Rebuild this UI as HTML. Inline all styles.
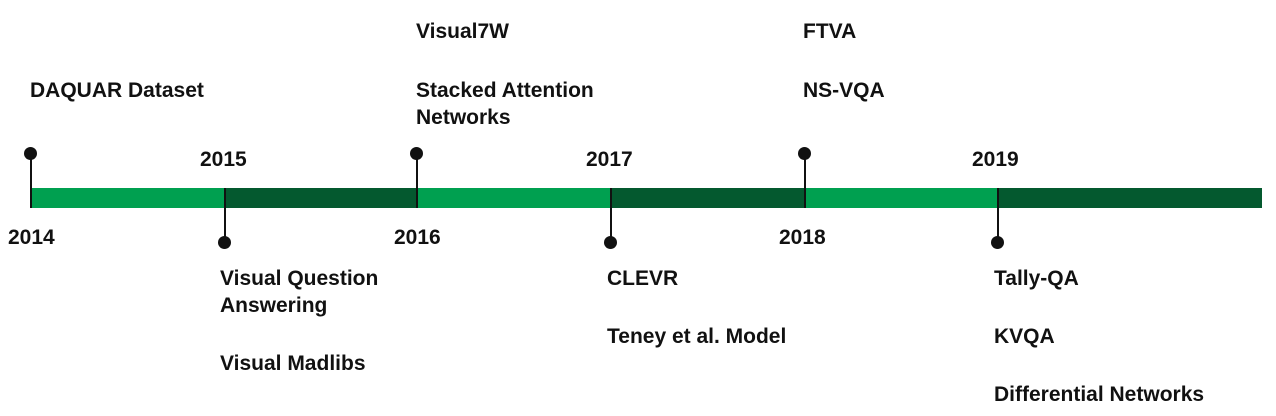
<!DOCTYPE html>
<html><head><style>
body{margin:0;width:1276px;height:416px;background:#fff;position:relative;overflow:hidden;font-family:"Liberation Sans",Arial,sans-serif;font-weight:bold;color:#111;}
.t{position:absolute;font-size:21px;line-height:27px;white-space:nowrap;}
.seg{position:absolute;top:188px;height:20px;}
.l{background:#00a050}.d{background:#04592f}
.v{position:absolute;width:1.5px;background:#111}
.dot{position:absolute;width:13px;height:13px;border-radius:50%;background:#111}
</style></head><body>
<div class="seg l" style="left:31px;width:194px"></div>
<div class="seg d" style="left:225px;width:192px"></div>
<div class="seg l" style="left:417px;width:194px"></div>
<div class="seg d" style="left:611px;width:194px"></div>
<div class="seg l" style="left:805px;width:193px"></div>
<div class="seg d" style="left:998px;width:264px"></div>

<div class="v" style="left:30px;top:153px;height:55px"></div><div class="dot" style="left:24px;top:147px"></div>
<div class="v" style="left:416px;top:153px;height:55px"></div><div class="dot" style="left:410px;top:147px"></div>
<div class="v" style="left:804px;top:153px;height:55px"></div><div class="dot" style="left:798px;top:147px"></div>
<div class="v" style="left:224px;top:188px;height:55px"></div><div class="dot" style="left:218px;top:236px"></div>
<div class="v" style="left:610px;top:188px;height:55px"></div><div class="dot" style="left:604px;top:236px"></div>
<div class="v" style="left:997px;top:188px;height:55px"></div><div class="dot" style="left:991px;top:236px"></div>

<div class="t" style="left:8px;top:224px">2014</div>
<div class="t" style="left:200px;top:146px">2015</div>
<div class="t" style="left:394px;top:224px">2016</div>
<div class="t" style="left:586px;top:146px">2017</div>
<div class="t" style="left:779px;top:224px">2018</div>
<div class="t" style="left:972px;top:146px">2019</div>

<div class="t" style="left:30px;top:77px">DAQUAR Dataset</div>
<div class="t" style="left:416px;top:18px">Visual7W</div>
<div class="t" style="left:416px;top:77px">Stacked Attention<br>Networks</div>
<div class="t" style="left:803px;top:18px">FTVA</div>
<div class="t" style="left:803px;top:77px">NS-VQA</div>

<div class="t" style="left:220px;top:265px">Visual Question<br>Answering</div>
<div class="t" style="left:220px;top:350px">Visual Madlibs</div>
<div class="t" style="left:607px;top:265px">CLEVR</div>
<div class="t" style="left:607px;top:323px">Teney et al. Model</div>
<div class="t" style="left:994px;top:265px">Tally-QA</div>
<div class="t" style="left:994px;top:323px">KVQA</div>
<div class="t" style="left:994px;top:381px">Differential Networks</div>
</body></html>
